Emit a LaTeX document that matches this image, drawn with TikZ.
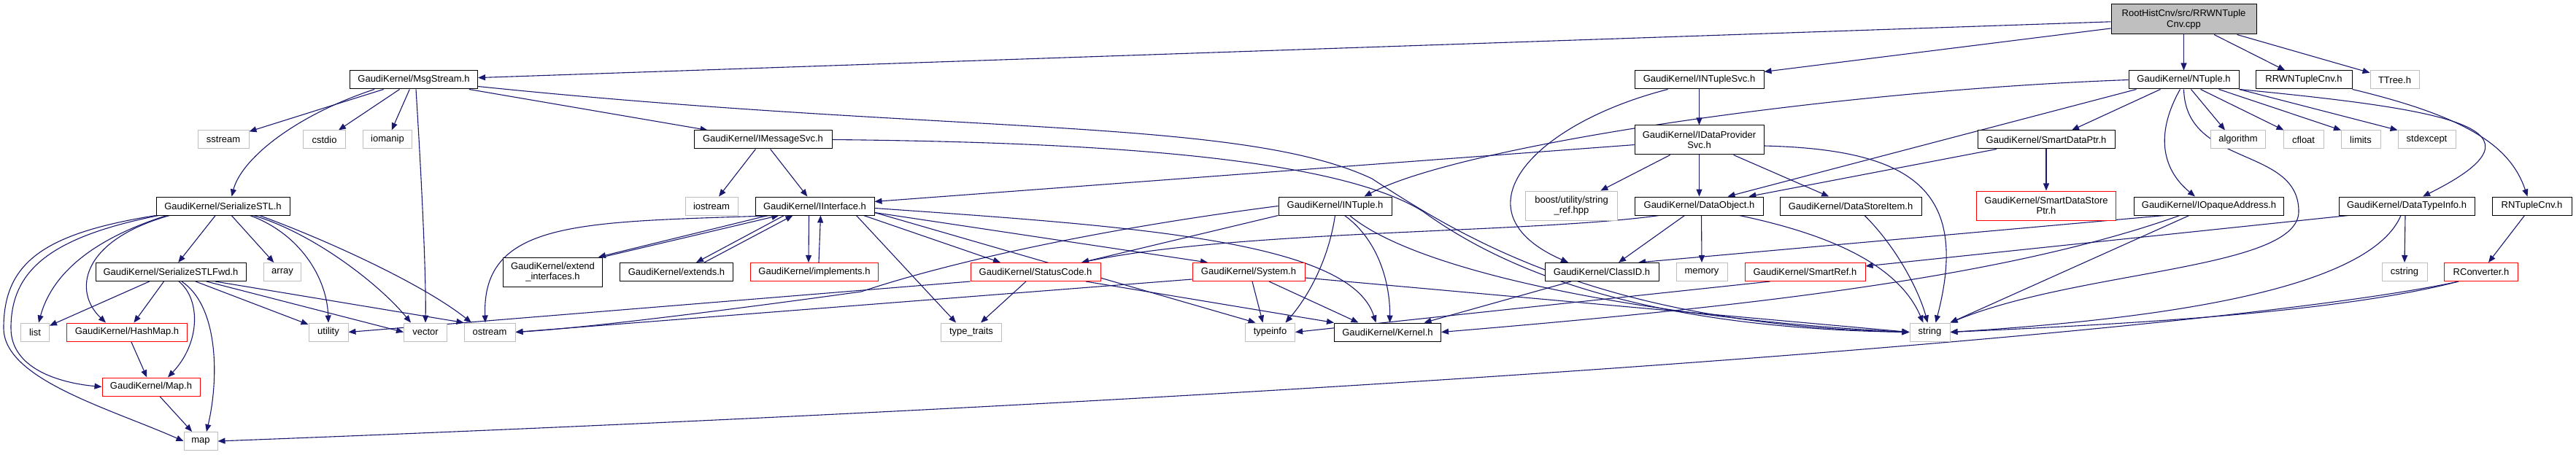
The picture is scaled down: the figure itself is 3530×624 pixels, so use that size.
\documentclass[tikz,border=0pt]{standalone}
\usepackage{fontspec}
\setmainfont{Liberation Sans}
\usetikzlibrary{arrows.meta,backgrounds}
\definecolor{edgec}{HTML}{191970}
\definecolor{graybd}{HTML}{BFBFBF}
\definecolor{rootfill}{HTML}{BFBFBF}
\newcommand\nfont{\fontsize{13bp}{14.5bp}\selectfont}
\tikzset{
  box/.style={draw=black, line width=1bp, fill=white, inner sep=0pt, align=center, font=\nfont, minimum height=25bp},
  rbox/.style={box, draw=red},
  gbox/.style={box, draw=graybd},
  ed/.style={draw=edgec, line width=1.1bp, -{Triangle[length=10bp,width=8bp]}},
}
\begin{document}
\begin{tikzpicture}[x=1bp,y=-1bp]
\useasboundingbox (0,0) rectangle (3530,624);
% row 0
\node[box, fill=rootfill, minimum width=199bp, minimum height=41bp] (root) at (2992.5,26.5) {RootHistCnv/src/RRWNTuple\\Cnv.cpp};
% row 1
\node[box, minimum width=175bp] (msgstream) at (567,109.5) {GaudiKernel/MsgStream.h};
\node[box, minimum width=177bp] (ntuplesvc) at (2328.5,109.5) {GaudiKernel/INTupleSvc.h};
\node[box, minimum width=151bp] (ntuple) at (2992.5,109.5) {GaudiKernel/NTuple.h};
\node[box, minimum width=132bp] (rrwcnvh) at (3157,109.5) {RRWNTupleCnv.h};
\node[gbox, minimum width=67bp] (ttree) at (3281.5,109.5) {TTree.h};
% row 2
\node[gbox, minimum width=70bp] (sstream) at (306,191.5) {sstream};
\node[gbox, minimum width=58bp] (cstdio) at (444.5,191.5) {cstdio};
\node[gbox, minimum width=67bp] (iomanip) at (531,191.5) {iomanip};
\node[box, minimum width=189bp] (imsgsvc) at (1045.5,191.5) {GaudiKernel/IMessageSvc.h};
\node[box, minimum width=177bp, minimum height=40bp] (idp) at (2328.5,192) {GaudiKernel/IDataProvider\\Svc.h};
\node[box, minimum width=188bp] (sdptr) at (2804,191.5) {GaudiKernel/SmartDataPtr.h};
\node[gbox, minimum width=75bp] (algorithm) at (3067,191.5) {algorithm};
\node[gbox, minimum width=55bp] (cfloat) at (3156.5,191.5) {cfloat};
\node[gbox, minimum width=54bp] (limits) at (3235,191.5) {limits};
\node[gbox, minimum width=79bp] (stdexcept) at (3325.5,191.5) {stdexcept};
% row 3
\node[box, minimum width=183bp] (sstl) at (305.5,282.5) {GaudiKernel/SerializeSTL.h};
\node[gbox, minimum width=72bp] (iostream) at (975,282.5) {iostream};
\node[box, minimum width=163bp] (iiface) at (1116.5,282.5) {GaudiKernel/IInterface.h};
\node[box, minimum width=155bp] (intuple) at (1829.5,282.5) {GaudiKernel/INTuple.h};
\node[gbox, minimum width=126bp, minimum height=40bp] (boost) at (2153.5,282) {boost/utility/string\\\_ref.hpp};
\node[box, minimum width=176bp] (dataobj) at (2328.5,282.5) {GaudiKernel/DataObject.h};
\node[box, minimum width=194bp] (dsitem) at (2536,282.5) {GaudiKernel/DataStoreItem.h};
\node[rbox, minimum width=191bp, minimum height=40bp] (sdsptr) at (2804,282) {GaudiKernel/SmartDataStore\\Ptr.h};
\node[box, minimum width=205bp] (iopaque) at (3027,282.5) {GaudiKernel/IOpaqueAddress.h};
\node[box, minimum width=186bp] (dtinfo) at (3298,282.5) {GaudiKernel/DataTypeInfo.h};
\node[box, minimum width=109bp] (rntcnv) at (3469.5,282.5) {RNTupleCnv.h};
% row 4
\node[box, minimum width=206bp] (sstlfwd) at (234,373) {GaudiKernel/SerializeSTLFwd.h};
\node[gbox, minimum width=51bp] (array) at (387,373) {array};
\node[box, minimum width=136bp, minimum height=40bp] (extif) at (757.5,373) {GaudiKernel/extend\\\_interfaces.h};
\node[box, minimum width=155bp] (extends) at (927,373) {GaudiKernel/extends.h};
\node[rbox, minimum width=175bp] (implements) at (1116,373) {GaudiKernel/implements.h};
\node[rbox, minimum width=178bp] (statuscode) at (1419,373) {GaudiKernel/StatusCode.h};
\node[rbox, minimum width=154bp] (system) at (1711,373) {GaudiKernel/System.h};
\node[box, minimum width=156bp] (classid) at (2195,373) {GaudiKernel/ClassID.h};
\node[gbox, minimum width=70bp] (memory) at (2332,373) {memory};
\node[rbox, minimum width=165bp] (smartref) at (2473.5,373) {GaudiKernel/SmartRef.h};
\node[gbox, minimum width=62bp] (cstring) at (3295,373) {cstring};
\node[rbox, minimum width=101bp] (rconv) at (3400,373) {RConverter.h};
% row 5
\node[gbox, minimum width=39bp] (list) at (48,455.5) {list};
\node[rbox, minimum width=165bp] (hashmap) at (174,455.5) {GaudiKernel/HashMap.h};
\node[gbox, minimum width=54bp] (utility) at (450,455.5) {utility};
\node[gbox, minimum width=59bp] (vector) at (583,455.5) {vector};
\node[gbox, minimum width=70bp] (ostream) at (671,455.5) {ostream};
\node[gbox, minimum width=83bp] (typetraits) at (1331,455.5) {type\_traits};
\node[gbox, minimum width=68bp] (typeinfo) at (1740.5,455.5) {typeinfo};
\node[box, minimum width=146bp] (kernel) at (1901.5,455.5) {GaudiKernel/Kernel.h};
\node[gbox, minimum width=55bp] (string) at (2644.5,455.5) {string};
% row 6,7
\node[rbox, minimum width=134bp] (maph) at (207,530.5) {GaudiKernel/Map.h};
\node[gbox, minimum width=46bp] (map) at (275,605) {map};

\begin{scope}[on background layer]
% root
\draw[ed] (root) -- (msgstream);
\draw[ed] (root) -- (ntuplesvc);
\draw[ed] (root) -- (ntuple);
\draw[ed] (root) -- (rrwcnvh);
\draw[ed] (root) -- (ttree);
% msgstream
\draw[ed] (msgstream) -- (sstream);
\draw[ed] (msgstream) -- (cstdio);
\draw[ed] (msgstream) -- (iomanip);
\draw[ed] ([xshift=-54bp]msgstream.south) .. controls (400,160) and (330,220) .. ([xshift=12bp]sstl.north);
\draw[ed] ([xshift=3bp]msgstream.south) .. controls (578,250) and (584,380) .. (vector.north);
\draw[ed] (msgstream) -- (imsgsvc);
\draw[ed] ([yshift=-9bp]msgstream.east) .. controls (1300,185) and (1700,160) .. (1880,245) .. controls (2010,330) and (2200,445) .. (string.west);
% imsgsvc
\draw[ed] (imsgsvc) -- (iostream);
\draw[ed] (imsgsvc) -- (iiface);
\draw[ed] (imsgsvc.east) .. controls (1500,195) and (1830,215) .. (1950,290) .. controls (2060,370) and (2250,450) .. (string.west);
% sstl
\draw[ed] (sstl.south west) .. controls (60,320) and (5,360) .. (5,450) .. controls (5,520) and (150,560) .. (map.west);
\draw[ed] ([xshift=4bp]sstl.south west) .. controls (70,325) and (15,370) .. (15,450) .. controls (15,505) and (80,525) .. (maph.west);
\draw[ed] ([xshift=15bp]sstl.south west) .. controls (120,330) and (70,380) .. ([xshift=5bp]list.north);
\draw[ed] ([xshift=19bp]sstl.south west) .. controls (110,330) and (100,400) .. ([xshift=-29bp]hashmap.north);
\draw[ed] (sstl) -- (sstlfwd);
\draw[ed] (sstl) -- (array);
\draw[ed] ([xshift=-55bp]sstl.south east) .. controls (410,320) and (448,380) .. (utility.north);
\draw[ed] ([xshift=-50bp]sstl.south east) .. controls (430,320) and (520,390) .. ([xshift=-20bp]vector.north);
\draw[ed] ([xshift=-42bp]sstl.south east) .. controls (450,330) and (580,390) .. ([xshift=-25bp]ostream.north);
% sstlfwd
\draw[ed] (sstlfwd) -- (list);
\draw[ed] (sstlfwd) -- (hashmap);
\draw[ed] ([xshift=11bp]sstlfwd.south) .. controls (275,410) and (275,470) .. ([xshift=23bp]maph.north);
\draw[ed] ([xshift=15bp]sstlfwd.south) .. controls (300,420) and (300,520) .. ([xshift=8bp]map.north);
\draw[ed] (sstlfwd) -- (utility);
\draw[ed] ([xshift=49bp]sstlfwd.south) -- (vector.west);
\draw[ed] ([xshift=61bp]sstlfwd.south) -- (ostream.north west);
\draw[ed] (hashmap) -- (maph);
\draw[ed] (maph) -- (map);
% iiface
\draw[ed] ([xshift=18bp]iiface.south west) -- ([xshift=-6bp]extif.north east);
\draw[ed] (extif.north east) -- ([xshift=33bp]iiface.south west);
\draw[ed] ([xshift=40bp]iiface.south west) -- ([xshift=-51bp]extends.north east);
\draw[ed] ([xshift=-40bp]extends.north east) -- ([xshift=52bp]iiface.south west);
\draw[ed] ([xshift=-8bp]iiface.south) -- ([xshift=-8bp]implements.north);
\draw[ed] ([xshift=6bp]implements.north) -- ([xshift=8bp]iiface.south);
\draw[ed] ([xshift=29bp]iiface.south west) .. controls (800,305) and (660,300) .. ([xshift=-6bp]ostream.north);
\draw[ed] ([xshift=-25bp]iiface.south east) -- ([xshift=-21bp]typetraits.north);
\draw[ed] ([xshift=-15bp]iiface.south east) -- ([xshift=-48bp]statuscode.north);
\draw[ed] ([yshift=-9bp]iiface.east) -- ([xshift=-56bp]system.north);
\draw[ed] ([yshift=-9bp]iiface.east) -- ([xshift=-20bp]typeinfo.north);
\draw[ed] ([yshift=-3bp]iiface.east) .. controls (1550,310) and (1850,330) .. ([xshift=-16bp]kernel.north);
% statuscode
\draw[ed] (statuscode.south west) -- (utility.east);
\draw[ed] ([xshift=-13bp]statuscode.south) -- ([xshift=13bp]typetraits.north);
\draw[ed] ([xshift=69bp]statuscode.south) -- (kernel.north west);
% system
\draw[ed] ([xshift=5bp]system.south) -- ([xshift=-10bp]typeinfo.north);
\draw[ed] ([xshift=28bp]system.south) -- ([xshift=-40bp]kernel.north);
\draw[ed] ([yshift=-8bp]system.east) -- (string.west);
\draw[ed] ([yshift=-10bp]system.west) -- (ostream.east);
% intuple
\draw[ed] (intuple.south west) -- ([xshift=63bp]statuscode.north);
\draw[ed] (intuple.west) .. controls (1500,315) and (1300,360) .. (1180,400) .. controls (1000,425) and (800,450) .. (ostream.east);
\draw[ed] (intuple.south) .. controls (1820,360) and (1790,410) .. ([xshift=21bp]typeinfo.north);
\draw[ed] ([xshift=13bp]intuple.south) .. controls (1890,330) and (1905,390) .. ([xshift=3bp]kernel.north);
\draw[ed] ([xshift=20bp]intuple.south) .. controls (1950,380) and (2300,440) .. (string.west);
% ntuplesvc
\draw[ed] (ntuplesvc) -- (idp);
\draw[ed] ([xshift=-43bp]ntuplesvc.south) .. controls (2100,170) and (1990,290) .. ([xshift=-46bp]classid.north);
% idp
\draw[ed] (idp) -- (dataobj);
\draw[ed] (idp) -- (boost);
\draw[ed] (idp) -- (dsitem);
\draw[ed] (idp) -- (iiface);
\draw[ed] ([yshift=-8bp]idp.east) .. controls (2620,205) and (2700,260) .. ([xshift=8bp]string.north);
% dataobj
\draw[ed] ([xshift=-20bp]dataobj.south) -- ([xshift=23bp]classid.north);
\draw[ed] ([xshift=3bp]dataobj.south) -- (memory.north);
\draw[ed] ([xshift=55bp]dataobj.south) .. controls (2500,320) and (2600,360) .. ([xshift=-9bp]string.north);
\draw[ed] ([xshift=-55bp]dataobj.south) .. controls (2100,320) and (1700,315) .. ([xshift=63bp]statuscode.north);
% dsitem
\draw[ed] ([xshift=19bp]dsitem.south) .. controls (2600,340) and (2630,400) .. ([xshift=-3bp]string.north);
% sdptr
\draw[ed] (sdptr) -- (dataobj);
\draw[ed] (sdptr) -- (sdsptr);
% ntuple
\draw[ed] (ntuple.west) .. controls (2500,125) and (2000,200) .. ([xshift=40bp]intuple.north);
\draw[ed] ([xshift=-65bp]ntuple.south) -- ([xshift=39bp]dataobj.north);
\draw[ed] ([xshift=-32bp]ntuple.south) -- ([xshift=35bp]sdptr.north);
\draw[ed] ([xshift=-5bp]ntuple.south) .. controls (2955,180) and (2960,230) .. ([xshift=-19bp]iopaque.north);
\draw[ed] (ntuple.south) .. controls (2995,230) and (3150,200) .. (3150,290) .. controls (3150,370) and (2850,370) .. (string.north east);
\draw[ed] ([xshift=10bp]ntuple.south) -- ([xshift=-18bp]algorithm.north);
\draw[ed] ([xshift=23bp]ntuple.south) -- ([xshift=-27bp]cfloat.north);
\draw[ed] ([xshift=48bp]ntuple.south) -- ([xshift=-27bp]limits.north);
\draw[ed] (ntuple.south east) -- (stdexcept.north west);
\draw[ed] (ntuple.south east) .. controls (3350,150) and (3510,175) .. ([xshift=22bp]dtinfo.north);
% iopaque
\draw[ed] ([xshift=-61bp]iopaque.south) -- ([xshift=50bp]classid.north);
\draw[ed] ([xshift=-40bp]iopaque.south) .. controls (2750,380) and (2400,420) .. (kernel.east);
\draw[ed] ([xshift=-27bp]iopaque.south) -- (string.north east);
% dtinfo
\draw[ed] ([xshift=-80bp]dtinfo.south) -- ([yshift=8bp]smartref.east);
\draw[ed] ([xshift=-2bp]dtinfo.south) -- (cstring.north);
\draw[ed] ([xshift=-8bp]dtinfo.south) .. controls (3250,390) and (3000,435) .. (string.east);
% smartref, classid
\draw[ed] ([xshift=-48bp]smartref.south) -- (typeinfo.east);
\draw[ed] ([xshift=-42bp]classid.south) -- ([xshift=50bp]kernel.north);
% converters
\draw[ed] (rrwcnvh.south east) .. controls (3380,160) and (3440,200) .. ([xshift=-6bp]rntcnv.north);
\draw[ed] (rntcnv) -- (rconv);
\draw[ed] ([xshift=-31bp]rconv.south) .. controls (3200,430) and (2900,445) .. (string.east);
\draw[ed] ([xshift=-31bp]rconv.south) .. controls (3100,445) and (2000,540) .. (map.east);
\end{scope}
\end{tikzpicture}
\end{document}
